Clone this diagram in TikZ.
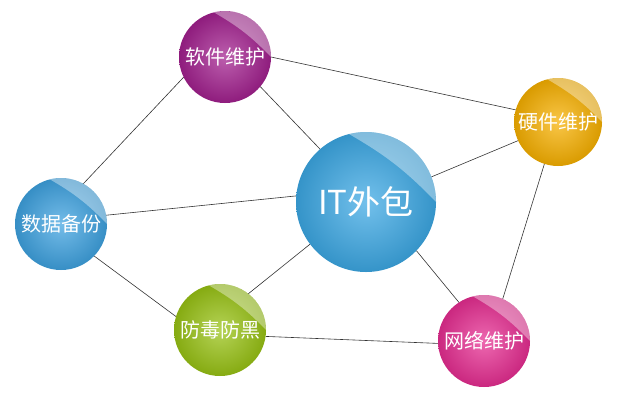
\documentclass[tikz,border=0pt]{standalone}
\usepackage{fontspec}
\newfontfamily\cjkfont{Noto Sans CJK SC}
\usetikzlibrary{backgrounds}

\definecolor{itblue}{RGB}{60,168,228}
\definecolor{dbblue}{RGB}{62,162,224}
\definecolor{swpurple}{RGB}{162,32,142}
\definecolor{hworange}{RGB}{247,176,0}
\definecolor{avgreen}{RGB}{152,194,20}
\definecolor{nwpink}{RGB}{230,45,145}

\begin{document}
\begin{tikzpicture}[x=1pt,y=1pt,yscale=-1,xscale=1,
  ball/.style 2 args={circle, inner sep=0pt, outer sep=0pt, minimum size=#2,
    shading=radial, inner color=#1!72!white, outer color=#1!88!black,
    text=white, font=\cjkfont\fontsize{20}{24}\selectfont},
  gloss/.style={white, fill opacity=0.38},
  link/.style={draw=black!80, line width=0.6pt}]
\useasboundingbox (0,0) rectangle (617,400);

% Spheres
\node[ball={itblue}{140pt}, font=\cjkfont\fontsize{33}{38}\selectfont] (it) at (366,202) {IT外包};
\node[ball={swpurple}{92pt}] (sw) at (225,57) {软件维护};
\node[ball={hworange}{88pt}] (hw) at (558,122) {硬件维护};
\node[ball={dbblue}{92pt}] (db) at (61,224) {数据备份};
\node[ball={avgreen}{92pt}] (av) at (220,330) {防毒防黑};
\node[ball={nwpink}{92pt}] (nw) at (484,341) {网络维护};

% Highlights
\foreach \n/\r in {it/70, sw/46, hw/44, db/46, av/46, nw/46} {
  \fill[gloss] (\n.104) to[bend right=8] (\n.0) arc[start angle=0, end angle=-104, radius=\r];
}

% Links
\begin{scope}[on background layer]
\draw[link] (sw.206.6) -- (db.61.8);
\draw[link] (sw.0) -- (hw.164.4);
\draw[link] (sw.-40.7) -- (it.131.2);
\draw[link] (db.11.6) -- (it.175.9);
\draw[link] (db.-44) -- (av.163.9);
\draw[link] (av.52.9) -- (it.217.7);
\draw[link] (av.-8.8) -- (nw.183.7);
\draw[link] (it.21.2) -- (hw.205);
\draw[link] (it.-44.4) -- (nw.123.7);
\draw[link] (hw.252.7) -- (nw.66.2);
\end{scope}

\end{tikzpicture}
\end{document}
